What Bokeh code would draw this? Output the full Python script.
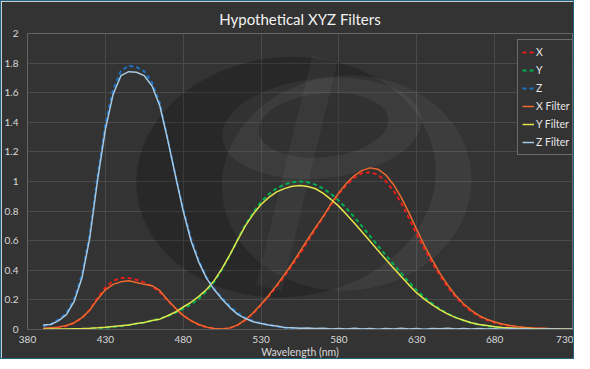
from bokeh.plotting import figure
from bokeh.models import Range1d, FixedTicker, CustomJSTickFormatter, ColumnDataSource
from bokeh.embed import file_html
from bokeh.resources import INLINE

# ---------------- data ----------------
wavelength = list(range(390, 735, 5))

x_cmf = [0.0042, 0.0077, 0.0143, 0.0232, 0.0435, 0.0776, 0.1344, 0.2148, 0.2839, 0.3285,
         0.3483, 0.3481, 0.3362, 0.3187, 0.2908, 0.2511, 0.1954, 0.1421, 0.0956, 0.0580,
         0.0320, 0.0147, 0.0049, 0.0024, 0.0093, 0.0291, 0.0633, 0.1096, 0.1655, 0.2258,
         0.2904, 0.3597, 0.4335, 0.5121, 0.5945, 0.6784, 0.7621, 0.8425, 0.9163, 0.9786,
         1.0263, 1.0567, 1.0622, 1.0456, 1.0026, 0.9384, 0.8545, 0.7514, 0.6424, 0.5419,
         0.4479, 0.3608, 0.2835, 0.2187, 0.1649, 0.1212, 0.0874, 0.0636, 0.0468, 0.0329,
         0.0227, 0.0158, 0.0114, 0.0081, 0.0058, 0.0041, 0.0029, 0.0020, 0.0014]

y_cmf = [0.0001, 0.0002, 0.0004, 0.0006, 0.0012, 0.0022, 0.0040, 0.0073, 0.0116, 0.0168,
         0.0230, 0.0298, 0.0380, 0.0480, 0.0600, 0.0739, 0.0910, 0.1126, 0.1390, 0.1693,
         0.2080, 0.2586, 0.3230, 0.4073, 0.5030, 0.6082, 0.7100, 0.7932, 0.8620, 0.9149,
         0.9540, 0.9803, 0.9950, 1.0000, 0.9950, 0.9786, 0.9520, 0.9154, 0.8700, 0.8163,
         0.7570, 0.6949, 0.6310, 0.5668, 0.5030, 0.4412, 0.3810, 0.3210, 0.2650, 0.2170,
         0.1750, 0.1382, 0.1070, 0.0816, 0.0610, 0.0446, 0.0320, 0.0232, 0.0170, 0.0119,
         0.0082, 0.0057, 0.0041, 0.0029, 0.0021, 0.0015, 0.0010, 0.0007, 0.0005]

z_cmf = [0.0201, 0.0362, 0.0679, 0.1102, 0.2074, 0.3713, 0.6456, 1.0391, 1.3856, 1.6230,
         1.7471, 1.7826, 1.7721, 1.7441, 1.6692, 1.5281, 1.2876, 1.0419, 0.8130, 0.6162,
         0.4652, 0.3533, 0.2720, 0.2123, 0.1582, 0.1117, 0.0783, 0.0573, 0.0422, 0.0298,
         0.0203, 0.0134, 0.0088, 0.0058, 0.0039, 0.0028, 0.0021, 0.0018, 0.0017, 0.0014,
         0.0011, 0.0010, 0.0008, 0.0006, 0.0003, 0.0002, 0.0002, 0.0001, 0.0001, 0.0,
         0.0, 0.0, 0.0, 0.0, 0.0, 0.0, 0.0, 0.0, 0.0, 0.0,
         0.0, 0.0, 0.0, 0.0, 0.0, 0.0, 0.0, 0.0, 0.0]

x_filter = [0.008, 0.012, 0.016, 0.027, 0.046, 0.080, 0.130, 0.205, 0.268, 0.305,
            0.322, 0.330, 0.318, 0.305, 0.296, 0.262, 0.200, 0.145, 0.094, 0.060,
            0.034, 0.016, 0.007, 0.004, 0.011, 0.031, 0.066, 0.113, 0.171, 0.232,
            0.300, 0.371, 0.446, 0.527, 0.610, 0.690, 0.765, 0.850, 0.925, 0.990,
            1.040, 1.075, 1.092, 1.083, 1.045, 0.980, 0.893, 0.788, 0.675, 0.566,
            0.468, 0.378, 0.298, 0.230, 0.174, 0.130, 0.094, 0.069, 0.051, 0.037,
            0.027, 0.019, 0.014, 0.010, 0.008, 0.006, 0.005, 0.004, 0.003]

y_filter = [0.002, 0.003, 0.004, 0.003, 0.005, 0.006, 0.008, 0.011, 0.015, 0.021,
            0.026, 0.031, 0.040, 0.047, 0.061, 0.070, 0.093, 0.118, 0.152, 0.184,
            0.224, 0.270, 0.332, 0.413, 0.506, 0.606, 0.702, 0.780, 0.845, 0.893,
            0.930, 0.952, 0.968, 0.973, 0.966, 0.951, 0.920, 0.878, 0.832, 0.776,
            0.718, 0.657, 0.596, 0.536, 0.474, 0.416, 0.358, 0.300, 0.247, 0.204,
            0.166, 0.133, 0.104, 0.080, 0.062, 0.046, 0.034, 0.027, 0.019, 0.013,
            0.010, 0.007, 0.006, 0.005, 0.004, 0.003, 0.003, 0.002, 0.002]

z_filter = [0.030, 0.034, 0.060, 0.100, 0.190, 0.350, 0.620, 1.010, 1.350, 1.590,
            1.715, 1.742, 1.738, 1.715, 1.645, 1.510, 1.285, 1.040, 0.800, 0.600,
            0.455, 0.345, 0.268, 0.205, 0.148, 0.102, 0.074, 0.052, 0.041, 0.030,
            0.024, 0.014, 0.012, 0.008, 0.010, 0.006, 0.009, 0.004, 0.007, 0.003,
            0.008, 0.004, 0.006, 0.002, 0.007, 0.003, 0.008, 0.004, 0.006, 0.002,
            0.007, 0.005, 0.009, 0.003, 0.007, 0.004, 0.006, 0.003, 0.005, 0.002,
            0.006, 0.003, 0.005, 0.002, 0.004, 0.003, 0.004, 0.002, 0.003]

x_ticks = [380, 430, 480, 530, 580, 630, 680, 730]
y_ticks = [0, 0.2, 0.4, 0.6, 0.8, 1.0, 1.2, 1.4, 1.6, 1.8, 2.0]

# ---------------- styling ----------------
BG = "#333333"
FONT = "Lato"

p = figure(width=574, height=359, output_backend="svg", toolbar_location=None,
           x_range=Range1d(380, 730), y_range=Range1d(0, 2),
           title="Hypothetical XYZ Filters",
           min_border_left=17, min_border_right=3, min_border_top=0, min_border_bottom=0)
p.styles = {"border": "1px solid #1f6480"}

p.background_fill_color = BG
p.border_fill_color = BG
p.outline_line_color = None

p.title.align = "center"
p.title.text_color = "#f2f2f2"
p.title.text_font = FONT
p.title.text_font_size = "15px"
p.title.text_font_style = "normal"
p.title.standoff = 12
p.title.offset = 0

# decorative background watermark (logo-like shapes)
p.ellipse(x=546, y=1.03, width=300, height=240, width_units="screen", height_units="screen",
          angle=0.1, fill_color="black", fill_alpha=0.2, line_color=None)
p.ellipse(x=585, y=0.99, width=250, height=215, width_units="screen", height_units="screen",
          angle=0.1, fill_color="white", fill_alpha=0.05, line_color=None)
p.ellipse(x=569, y=1.36, width=200, height=100, width_units="screen", height_units="screen",
          angle=0.1, fill_color="white", fill_alpha=0.05, line_color=None)
p.ellipse(x=570, y=1.38, width=130, height=64, width_units="screen", height_units="screen",
          angle=0.1, fill_color="black", fill_alpha=0.18, line_color=None)
p.segment(x0=571, y0=1.83, x1=535, y1=0.28, line_color="white", line_alpha=0.045, line_width=26)

for ax in (p.xaxis[0], p.yaxis[0]):
    ax.major_tick_line_color = None
    ax.minor_tick_line_color = None
    ax.major_label_text_color = "#d9d9d9"
    ax.major_label_text_font = FONT
    ax.major_label_text_font_size = "10px"

p.xaxis.ticker = FixedTicker(ticks=x_ticks)
p.yaxis.ticker = FixedTicker(ticks=y_ticks)
p.yaxis.formatter = CustomJSTickFormatter(code="return tick.toFixed(1).replace(/\\.0$/, '');")
p.xaxis.axis_line_color = "#5a5a5a"
p.yaxis.axis_line_color = None
p.xaxis.major_label_standoff = 0
p.yaxis.major_label_standoff = 3
p.xaxis.axis_label = "Wavelength (nm)"
p.xaxis.axis_label_text_color = "#d9d9d9"
p.xaxis.axis_label_text_font = FONT
p.xaxis.axis_label_text_font_size = "10.5px"
p.xaxis.axis_label_text_font_style = "normal"
p.xaxis.axis_label_standoff = 0

p.xgrid.ticker = FixedTicker(ticks=x_ticks)
p.ygrid.ticker = FixedTicker(ticks=y_ticks)
p.grid.grid_line_color = "#4a4a4a"
p.grid.grid_line_width = 1

src = ColumnDataSource(dict(w=wavelength, X=x_cmf, Y=y_cmf, Z=z_cmf,
                            XF=x_filter, YF=y_filter, ZF=z_filter))

p.line("w", "X", source=src, line_color="#e81c1c", line_width=2, line_dash="4 3", legend_label="X")
p.line("w", "Y", source=src, line_color="#00b050", line_width=2, line_dash="4 3", legend_label="Y")
p.line("w", "Z", source=src, line_color="#1a72c8", line_width=2, line_dash="4 3", legend_label="Z")
p.line("w", "XF", source=src, line_color="#ec6a2e", line_width=1.5, legend_label="X Filter")
p.line("w", "YF", source=src, line_color="#e4e44e", line_width=1.5, legend_label="Y Filter")
p.line("w", "ZF", source=src, line_color="#a6c8e0", line_width=1.5, legend_label="Z Filter")

lg = p.legend[0]
lg.location = (490, 174)
lg.background_fill_color = BG
lg.background_fill_alpha = 1
lg.border_line_color = "#a6a6a6"
lg.border_line_width = 1
lg.label_text_color = "#e6e6e6"
lg.label_text_font = FONT
lg.label_text_font_size = "10.5px"
lg.glyph_width = 12
lg.glyph_height = 16
lg.label_height = 16
lg.label_standoff = 2
lg.spacing = 2
lg.padding = 4
lg.margin = 0

open("out.html", "w").write(file_html(p, INLINE))
